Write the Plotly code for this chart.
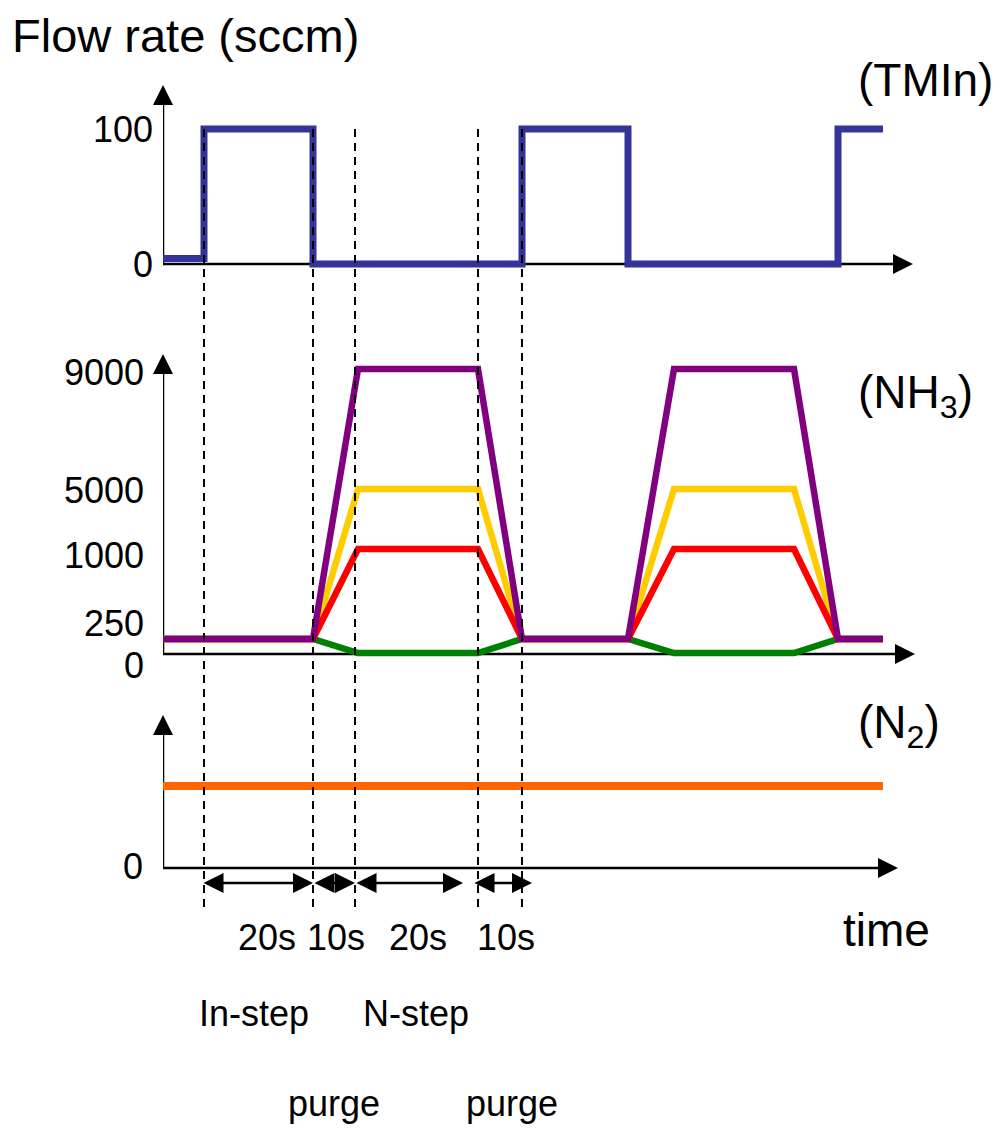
import plotly.graph_objects as go

# ---------------- data ----------------
# time axis in arbitrary schematic units
T_TMIN = [0, 8.2, 8.2, 30, 30, 71.8, 71.8, 93, 93, 135, 135, 144]
TMIN_FLOW = [4, 4, 100, 100, 0, 0, 100, 100, 0, 0, 100, 100]

T_NH3 = [0, 30, 39, 63, 71.8, 93, 102.2, 126.2, 135, 144]
NH3_9000 = [250, 250, 9000, 9000, 250, 250, 9000, 9000, 250, 250]
NH3_5000 = [250, 250, 5000, 5000, 250, 250, 5000, 5000, 250, 250]
NH3_1000 = [250, 250, 1000, 1000, 250, 250, 1000, 1000, 250, 250]
NH3_0 = [250, 250, 0, 0, 250, 250, 0, 0, 250, 250]

T_N2 = [0, 144]
N2_FLOW = [1, 1]

# schematic (non-linear) NH3 axis: flow -> axis height
NH3_SCALE = {0: 1, 250: 15, 1000: 105, 5000: 165, 9000: 285}
NH3_TICKS = [9000, 5000, 1000, 250, 0]
TMIN_TICKS = [100, 0]

STEP_BOUNDS = [8.2, 30, 38.4, 63, 71.8]
DUR_START = [7.8, 30, 38.4, 62]
DUR_END = [30, 38.4, 60, 73.8]
DUR_LABELS = ["20s", "10s", "20s", "10s"]
DUR_LABEL_T = [20.8, 34.6, 51, 68.6]
PHASE_LABELS = ["In-step", "N-step", "purge", "purge"]
PHASE_T = [18.2, 50.6, 34.2, 69.8]

W, H = 1003, 1128
FONT = "Liberation Sans, Arial, sans-serif"


def py(p):
    return 1 - p / H


def px(p):
    return p / W


fig = go.Figure()

# TMIn
fig.add_trace(go.Scatter(x=T_TMIN, y=TMIN_FLOW, mode="lines", xaxis="x", yaxis="y",
                         line=dict(color="#333399", width=7), showlegend=False, hoverinfo="skip"))
# NH3
for vals, col in [(NH3_0, "#008000"), (NH3_5000, "#FFCC00"), (NH3_1000, "#FF0000"), (NH3_9000, "#800080")]:
    fig.add_trace(go.Scatter(x=T_NH3, y=[NH3_SCALE[v] for v in vals], mode="lines",
                             xaxis="x", yaxis="y2", line=dict(color=col, width=6.5),
                             showlegend=False, hoverinfo="skip"))
# N2
fig.add_trace(go.Scatter(x=T_N2, y=N2_FLOW, mode="lines", xaxis="x", yaxis="y3",
                         line=dict(color="#FF6600", width=8), showlegend=False, hoverinfo="skip"))

# axis geometry
XMAX = (W - 163) / 5.0
top_rng = [-12, 132.6]
mid_rng = [-12, 300]
bot_rng = [-0.1, 1.866]

hide = dict(visible=False, showgrid=False, zeroline=False, fixedrange=True)
fig.update_layout(
    width=W, height=H,
    margin=dict(l=0, r=0, t=0, b=0),
    plot_bgcolor="white", paper_bgcolor="white",
    xaxis=dict(domain=[163 / W, 1], range=[0, XMAX], **hide),
    yaxis=dict(domain=[py(264 + 12 * 1.35), py(85)], range=top_rng, anchor="x", **hide),
    yaxis2=dict(domain=[py(666), py(354)], range=mid_rng, anchor="x", **hide),
    yaxis3=dict(domain=[py(868 + 8.2), py(715)], range=bot_rng, anchor="x", **hide),
    font=dict(family=FONT, color="black"),
)

shapes = []
ann = []
AX = dict(color="black", width=2.5)
HEAD = dict(showarrow=True, arrowhead=2, arrowsize=1.6, arrowwidth=2.5, arrowcolor="black", text="")


def axis_pair(yref, xend, ytop, yzero, ystep):
    shapes.append(dict(type="line", xref="x", yref=yref, x0=0, x1=xend - 1.5, y0=yzero, y1=yzero,
                       line=AX, layer="below"))
    shapes.append(dict(type="line", xref="x", yref=yref, x0=0, x1=0, y0=yzero, y1=ytop - 8 * ystep,
                       line=AX, layer="below"))
    ann.append(dict(x=xend, y=yzero, ax=xend - 4, ay=yzero, xref="x", yref=yref, axref="x", ayref=yref,
                    **HEAD))
    ann.append(dict(x=0, y=ytop, ax=0, ay=ytop - 20 * ystep, xref="x", yref=yref, axref="x", ayref=yref,
                    **HEAD))


axis_pair("y", 150, 132.6, 0, 1 / 1.35)
axis_pair("y2", 150.4, 300, 0, 1)
axis_pair("y3", 147, 1.866, 0, 1 / 82)

# dashed step boundaries
for t in STEP_BOUNDS:
    shapes.append(dict(type="line", xref="x", yref="paper", x0=t, x1=t, y0=py(907), y1=py(125),
                       line=dict(color="black", width=2, dash="8px,6px"), layer="above"))

# duration arrows
for a, b in zip(DUR_START, DUR_END):
    ann.append(dict(x=b, y=py(883), ax=a, ay=0, xref="x", yref="paper", axref="x", ayref="pixel",
                    showarrow=True, arrowhead=2, arrowside="end+start", arrowsize=1.6, arrowwidth=2.5,
                    arrowcolor="black", text=""))
for lab, t in zip(DUR_LABELS, DUR_LABEL_T):
    ann.append(dict(x=t, y=py(937), xref="x", yref="paper", text=lab, showarrow=False,
                    font=dict(size=36), xanchor="center", yanchor="middle"))
for i, (lab, t) in enumerate(zip(PHASE_LABELS, PHASE_T)):
    ann.append(dict(x=t, y=py(1013 if i < 2 else 1103), xref="x", yref="paper", text=lab,
                    showarrow=False, font=dict(size=36), xanchor="center", yanchor="middle"))

# tick labels
for v in TMIN_TICKS:
    ann.append(dict(x=px(155), y=v, xref="paper", yref="y", text=str(v), showarrow=False,
                    font=dict(size=36), xanchor="right", yanchor="middle"))
nh3_shift = {9000: -3, 5000: -1, 1000: -6, 250: 16, 0: -11}
for v in NH3_TICKS:
    ann.append(dict(x=px(146), y=NH3_SCALE[v] if v else 0, xref="paper", yref="y2", text=str(v),
                    showarrow=False, font=dict(size=36), xanchor="right", yanchor="middle",
                    yshift=nh3_shift[v]))
ann.append(dict(x=px(145), y=0, xref="paper", yref="y3", text="0", showarrow=False,
                font=dict(size=36), xanchor="right", yanchor="middle", yshift=2))

# titles / labels
ann.append(dict(x=px(10), y=py(36), xref="paper", yref="paper", text="Flow rate (sccm)",
                showarrow=False, font=dict(size=47), xanchor="left", yanchor="middle"))
ann.append(dict(x=px(856), y=py(80), xref="paper", yref="paper", text="(TMIn)",
                showarrow=False, font=dict(size=46), xanchor="left", yanchor="middle"))
ann.append(dict(x=px(856), y=py(395), xref="paper", yref="paper", text="(NH<sub>3</sub>)",
                showarrow=False, font=dict(size=46), xanchor="left", yanchor="middle"))
ann.append(dict(x=px(856), y=py(725), xref="paper", yref="paper", text="(N<sub>2</sub>)",
                showarrow=False, font=dict(size=46), xanchor="left", yanchor="middle"))
ann.append(dict(x=px(841), y=py(930), xref="paper", yref="paper", text="time",
                showarrow=False, font=dict(size=46), xanchor="left", yanchor="middle"))

fig.update_layout(shapes=shapes, annotations=ann)
fig.write_html("out.html", config={"displayModeBar": False},
               post_script="document.body.style.margin='0';document.body.style.overflow='hidden';")
